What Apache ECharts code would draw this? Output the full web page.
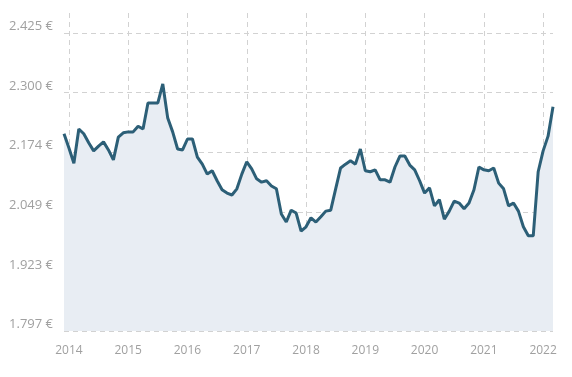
<!DOCTYPE html>
<html>
<head>
<meta charset="utf-8">
<script src="https://cdn.jsdelivr.net/npm/echarts@6/dist/echarts.min.js"></script>
<style>html,body{margin:0;padding:0;background:#fff}#c{width:572px;height:377px}</style>
</head>
<body>
<div id="c"></div>
<script>
// Months from Dec 2013 to Mar 2022
var months = [];
(function(){ var y=2013,m=12; for (var k=0;k<100;k++){ months.push(y+'-'+(m<10?'0':'')+m); m++; if(m>12){m=1;y++;} } })();

var prices = [
2213,2183,2151,2223,2213,2194,2177,2187,2196,2179,2158,2206,
2215,2217,2217,2229,2223,2278,2278,2278,2318,2246,2217,2181,
2179,2202,2202,2164,2149,2128,2135,2114,2095,2088,2084,2097,
2128,2154,2139,2118,2111,2114,2103,2097,2044,2027,2052,2046,
2008,2017,2036,2027,2038,2050,2052,2097,2141,2149,2156,2149,
2181,2135,2133,2137,2116,2116,2111,2143,2166,2166,2147,2137,
2114,2088,2099,2061,2074,2033,2050,2071,2067,2055,2067,2095,
2143,2137,2135,2141,2109,2097,2061,2067,2050,2017,1998,1998,
2133,2177,2208,2270
];

var yMin = 1797.4;
var yStep = 125.6;
var yMax = 2467.5;

function fmt(v){
  var n = Math.round(v);
  var s = String(n);
  return s.slice(0, s.length-3) + '.' + s.slice(s.length-3) + ' €';
}

var chart = echarts.init(document.getElementById('c'));
chart.setOption({
  animation: false,
  grid: {left: 64, right: 19, top: 13, bottom: 46},
  xAxis: {
    type: 'category',
    data: months,
    boundaryGap: false,
    axisLine: {show: false},
    axisTick: {show: false},
    axisLabel: {
      interval: function(i, v){ return v.slice(5) === '01'; },
      formatter: function(v){ return v.slice(0,4); },
      color: '#a0a0a0',
      fontFamily: 'Open Sans',
      fontSize: 12,
      margin: 14
    },
    splitLine: {
      show: true,
      interval: function(i, v){ return v.slice(5) === '01'; },
      lineStyle: {color: '#d2d2d2', type: [5, 4], width: 1}
    }
  },
  yAxis: {
    type: 'value',
    min: yMin,
    max: yMax,
    interval: yStep,
    axisLine: {show: false},
    axisTick: {show: false},
    axisLabel: {
      formatter: fmt,
      showMaxLabel: false,
      color: '#a0a0a0',
      fontFamily: 'Open Sans',
      fontSize: 13,
      margin: 11,
      verticalAlign: 'bottom'
    },
    splitLine: {
      show: true,
      showMaxLine: false,
      lineStyle: {color: '#d2d2d2', type: [5, 4], width: 1}
    }
  },
  series: [{
    type: 'line',
    data: prices,
    symbol: 'none',
    lineStyle: {color: '#2c5f77', width: 3},
    areaStyle: {color: '#e8edf3', opacity: 1},
    z: 3
  }]
});
</script>
</body>
</html>
